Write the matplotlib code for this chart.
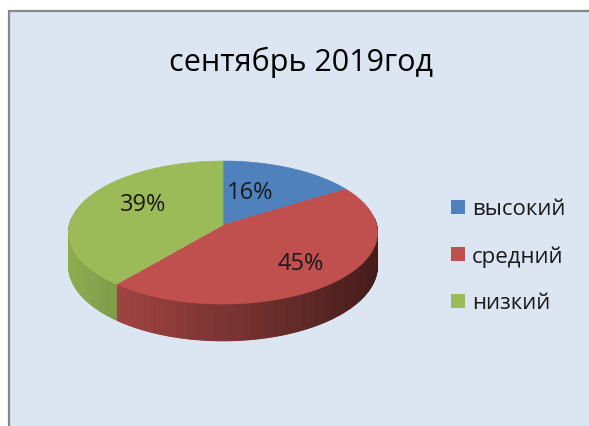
import numpy as np
import matplotlib
matplotlib.use("Agg")
import matplotlib.pyplot as plt
from matplotlib.patches import Polygon, Rectangle
from matplotlib.colors import to_rgb

title = "сентябрь 2019год"
categories = ["высокий", "средний", "низкий"]
values = [16, 45, 39]
colors = ["#4f81bd", "#c0504d", "#9bbb59"]

W, H = 589, 427
fig = plt.figure(figsize=(W / 100, H / 100), dpi=100)
ax = fig.add_axes([0, 0, 1, 1])
ax.set_xlim(0, W)
ax.set_ylim(H, 0)
ax.axis("off")
fig.patch.set_facecolor("white")

FONT = ["Open Sans", "DejaVu Sans"]

# chart area background
ax.add_patch(Rectangle((8.5, 11.5), W + 40, H + 40, facecolor="#dce6f2",
                       edgecolor="#888888", linewidth=1.6, zorder=0))

ax.text(301, 62, title, ha="center", va="center", fontsize=22,
        family=FONT, color="#000000")

# perspective pie geometry
cx, cy = 223, 226          # projected pie centre
FX, FZ = 153.6, 70.7       # horizontal / vertical scale
k = 0.105                  # perspective strength
depth = 33                 # side height

def proj(a, r=1.0, down=0.0):
    t = np.radians(a)
    X, Z = r * np.cos(t), r * np.sin(t)
    d = 1 + k * Z
    return cx + FX * X / d, cy - FZ * Z / d + down / d

fr = np.array(values, float) / sum(values)
starts = 90 - 360 * np.concatenate([[0], np.cumsum(fr)[:-1]])
ends = starts - 360 * fr

xmin, xmax = cx - 155, cx + 155

def shade(c, x):
    f = 0.92 - 0.56 * (x - xmin) / (xmax - xmin)
    return tuple(np.clip(np.array(to_rgb(c)) * f, 0, 1))

# side walls (front half)
for s, e, c in zip(starts, ends, colors):
    lo, hi = min(s, e), max(s, e)
    for off in (-360, 0, 360):
        a0, a1 = max(lo + off, -186), min(hi + off, 6)
        if a1 <= a0:
            continue
        n = max(int((a1 - a0) / 0.5), 1)
        ea = np.linspace(a0, a1, n + 1)
        for i in range(n):
            b0, b1 = ea[i], ea[i + 1]
            p1, p2 = proj(b0), proj(b1)
            p3, p4 = proj(b1, down=depth), proj(b0, down=depth)
            xm = (p1[0] + p2[0]) / 2
            col = shade(c, xm)
            ax.add_patch(Polygon([p1, p2, p3, p4], closed=True,
                                 facecolor=col, edgecolor=col,
                                 linewidth=0.6, zorder=2))

# top faces
for s, e, c in zip(starts, ends, colors):
    angs = np.linspace(s, e, 300)
    pts = [(cx, cy)] + [proj(a) for a in angs]
    ax.add_patch(Polygon(pts, closed=True, facecolor=c, edgecolor=c,
                         linewidth=0.5, zorder=3))

# labels (radius fraction, angular offset from slice middle)
label_r = [0.53, 0.70, 0.62]
label_da = [8, 2, -10]
for s, e, v, lr, da in zip(starts, ends, values, label_r, label_da):
    x, y = proj((s + e) / 2 + da, r=lr)
    ax.text(x, y, f"{v}%", ha="center", va="center", fontsize=17,
            family=FONT, color="#1a1a1a", zorder=5)

# legend
ly0, ldy = 210, 47
for i, (cat, c) in enumerate(zip(categories, colors)):
    y = ly0 + i * ldy
    ax.add_patch(Rectangle((451, y - 9), 14, 14, facecolor=c,
                           edgecolor="none", zorder=5))
    ax.text(472, y, cat, ha="left", va="center", fontsize=16,
            family=FONT, color="#1a1a1a", zorder=5)

fig.savefig("out.png", dpi=100, facecolor="white")
